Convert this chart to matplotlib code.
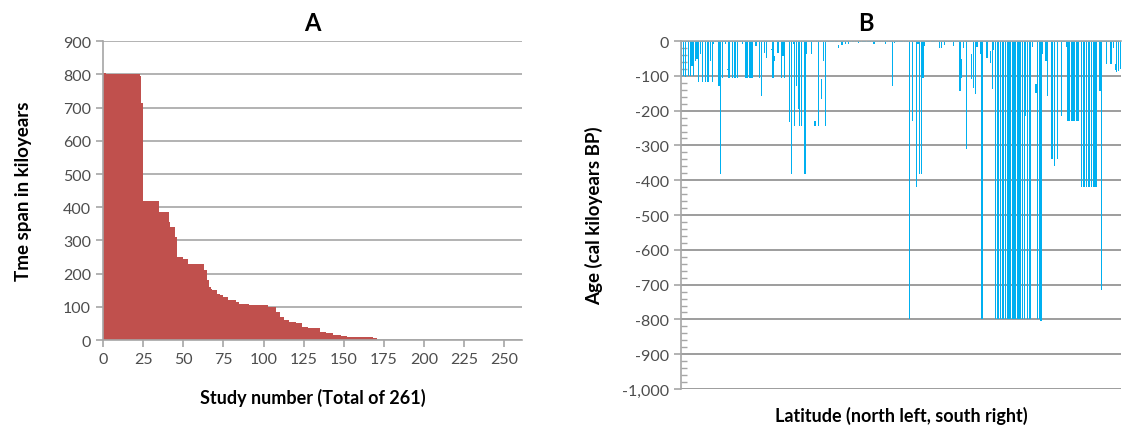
import numpy as np
import matplotlib
matplotlib.use("Agg")
from matplotlib import pyplot as plt
from matplotlib.ticker import MultipleLocator, FuncFormatter

plt.rcParams['font.family'] = ['Lato', 'DejaVu Sans']

# Panel A: time span of each study (sorted), as levels and how many studies have each level
span_levels = [805, 800, 795, 715, 420, 385, 355, 340, 310, 250, 245, 230, 210, 180,
               160, 155, 150, 140, 135, 130, 120, 115, 110, 105, 100, 85, 70, 60,
               55, 50, 40, 35, 25, 20, 15, 13, 10, 5, 0]
span_counts = [2, 21, 1, 1, 10, 6, 1, 3, 1, 4, 3, 10, 2, 1,
               1, 1, 3, 2, 2, 3, 5, 2, 6, 12, 5, 2, 3, 3,
               4, 4, 4, 7, 4, 4, 5, 4, 16, 3, 90]

# Panel B: oldest age of each record (kyr BP), ordered north -> south
old_age = [
    103, 100, 103, 3, 100, 100, 72, 100, 57, 52,
    119, 38, 119, 3, 119, 119, 119, 57, 119, 8,
    3, 3, 129, 382, 105, 3, 8, 84, 105, 3,
    105, 105, 105, 105, 3, 3, 8, 3, 105, 105,
    105, 105, 105, 3, 15, 3, 105, 157, 3, 33,
    48, 3, 3, 26, 105, 57, 3, 33, 3, 105,
    43, 105, 3, 3, 234, 382, 8, 243, 129, 196,
    243, 243, 3, 382, 36, 3, 3, 38, 3, 243,
    3, 243, 3, 167, 57, 243, 2, 2, 2, 2,
    2, 2, 2, 21, 2, 12, 2, 8, 2, 8,
    2, 2, 2, 2, 2, 5, 2, 2, 2, 2,
    2, 2, 2, 2, 8, 2, 2, 2, 2, 2,
    2, 8, 2, 2, 2, 129, 5, 2, 2, 2,
    2, 2, 2, 2, 2, 800, 2, 229, 2, 420,
    8, 382, 382, 105, 15, 2, 2, 2, 2, 2,
    2, 2, 2, 20, 20, 2, 10, 2, 2, 2,
    2, 15, 2, 2, 2, 145, 105, 21, 2, 310,
    2, 2, 110, 134, 153, 17, 2, 38, 800, 2,
    2, 48, 2, 62, 138, 27, 800, 800, 800, 800,
    800, 800, 800, 800, 800, 800, 800, 800, 800, 800,
    800, 800, 800, 800, 215, 800, 800, 800, 17, 2,
    148, 800, 800, 805, 38, 2, 57, 157, 2, 339,
    339, 358, 2, 339, 2, 215, 2, 2, 17, 229,
    229, 229, 229, 229, 229, 229, 2, 420, 420, 420,
    420, 420, 420, 420, 420, 420, 420, 2, 143, 715,
    2, 2, 65, 2, 65, 65, 19, 84, 88, 86, 81,
]
# records that do not reach the present: index and youngest age
floating_idx = [27, 53, 55, 79, 83, 93, 166, 172, 183, 210, 257]
floating_top = [80, 22, 43, 231, 110, 10, 52, 38, 29, 124, 65]

grid_col = '#A6A6A6'
txt_col = '#4D4D4D'

fig = plt.figure(figsize=(11.24, 4.35), dpi=100)

# ---------------- panel A ----------------
spans = np.repeat(span_levels, span_counts)
axA = fig.add_axes([0.0916, 0.216, 0.3728, 0.687])
axA.bar(np.arange(len(spans)), spans, width=1.0, align='edge', color='#C0504D',
        edgecolor='none', zorder=2)
axA.set_xlim(0, 261)
axA.set_ylim(0, 900)
axA.xaxis.set_major_locator(MultipleLocator(25))
axA.yaxis.set_major_locator(MultipleLocator(100))
axA.grid(axis='y', color=grid_col, lw=1.2, zorder=0)
for s in ['top', 'right']:
    axA.spines[s].set_visible(False)
for s in ['left', 'bottom']:
    axA.spines[s].set_color(grid_col)
    axA.spines[s].set_linewidth(1.2)
    axA.spines[s].set_zorder(3)
axA.tick_params(axis='both', colors=grid_col, labelcolor=txt_col, labelsize=11.5,
                length=5, width=1.2)
axA.set_xlabel('Study number (Total of 261)', fontsize=13, fontweight='bold',
               labelpad=16)
axA.set_ylabel('Tme span in kiloyears', fontsize=13.5, fontweight='bold', labelpad=22)
fig.text(0.278, 0.945, 'A', fontsize=17, fontweight='bold', ha='center', va='center')

# ---------------- panel B ----------------
old = np.array(old_age, dtype=float)
young = np.zeros_like(old)
young[floating_idx] = floating_top
idx = np.arange(len(old))

axB = fig.add_axes([0.6059, 0.1034, 0.3915, 0.8])
axB.bar(idx + 0.5, -(old - young), bottom=-young, width=0.7, color='#00B0F0',
        edgecolor='none', zorder=2)
axB.set_xlim(0, 261)
axB.set_ylim(-1000, 0)
axB.yaxis.set_major_locator(MultipleLocator(100))
axB.yaxis.set_minor_locator(MultipleLocator(20))
axB.yaxis.set_major_formatter(FuncFormatter(lambda v, p: f'{int(round(v)):,}'))
axB.set_xticks([])
axB.grid(axis='y', which='major', color='#8C8C8C', lw=1.2, zorder=0)
for s in ['right', 'bottom']:
    axB.spines[s].set_visible(False)
for s in ['left', 'top']:
    axB.spines[s].set_color(grid_col)
    axB.spines[s].set_linewidth(1.2)
axB.spines['top'].set_zorder(3)
axB.tick_params(axis='y', which='major', colors=grid_col, labelcolor=txt_col,
                labelsize=11.5, length=5, width=1.2, direction='out')
axB.tick_params(axis='y', which='minor', colors=grid_col, length=4, width=1.0,
                direction='in')
axB.set_xlabel('Latitude (north left, south right)', fontsize=13, fontweight='bold',
               labelpad=12)
axB.set_ylabel('Age (cal kiloyears BP)', fontsize=13.5, fontweight='bold', labelpad=14)
fig.text(0.770, 0.945, 'B', fontsize=17, fontweight='bold', ha='center', va='center')

fig.savefig('out.png', dpi=100)
